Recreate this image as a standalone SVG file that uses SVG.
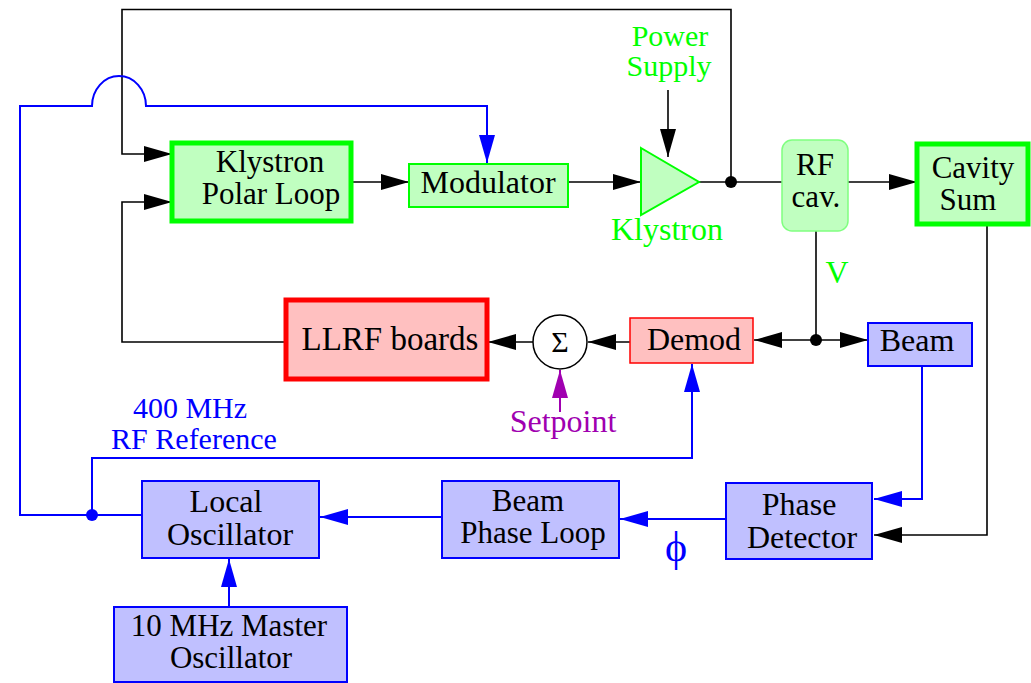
<svg xmlns="http://www.w3.org/2000/svg" width="1031" height="683" viewBox="0 0 1031 683" font-family="'Liberation Serif', 'Times New Roman', serif">
<style>
text{font-family:'Liberation Serif','Times New Roman',serif;font-size:32px;text-anchor:middle;fill:#000}
.two{font-size:31px}
.g{fill:#c0ffc0;stroke:#00ff00;stroke-width:2}
.gt{fill:#c0ffc0;stroke:#00ff00;stroke-width:5}
.r{fill:#ffc0c0;stroke:#ff0000;stroke-width:1.5}
.rt{fill:#ffc0c0;stroke:#ff0000;stroke-width:5}
.b{fill:#c0c0ff;stroke:#0000ff;stroke-width:2}
.k{fill:none;stroke:#000;stroke-width:1.6}
.bl{fill:none;stroke:#0000ff;stroke-width:2}
.pu{fill:none;stroke:#a000b0;stroke-width:2}
.green{fill:#00ff00}
.blue{fill:#0000ff}
.purple{fill:#a000b0}
</style>
<defs>
<marker id="ak" markerUnits="userSpaceOnUse" markerWidth="28" markerHeight="16" viewBox="0 0 28 16" refX="28" refY="8" orient="auto"><path d="M0,0 L28,8 L0,16 z" fill="#000"/></marker>
<marker id="ab" markerUnits="userSpaceOnUse" markerWidth="28" markerHeight="16" viewBox="0 0 28 16" refX="28" refY="8" orient="auto"><path d="M0,0 L28,8 L0,16 z" fill="#0000ff"/></marker>
<marker id="ap" markerUnits="userSpaceOnUse" markerWidth="28" markerHeight="16" viewBox="0 0 28 16" refX="28" refY="8" orient="auto"><path d="M0,0 L28,8 L0,16 z" fill="#a000b0"/></marker>
</defs>
<rect width="1031" height="683" fill="#fff"/>
<g id="connectors">
<path class="k" d="M731,182 L731,9.5 L122,9.5 L122,154 L172,154" marker-end="url(#ak)"/>
<path class="k" d="M286,342 L122,342 L122,202 L172,202" marker-end="url(#ak)"/>
<path class="k" d="M351,182 L409,182" marker-end="url(#ak)"/>
<path class="k" d="M568,182 L641,182" marker-end="url(#ak)"/>
<path class="k" d="M668,90 L668,157" marker-end="url(#ak)"/>
<path class="k" d="M699,182 L782,182"/>
<circle cx="731" cy="182" r="6" fill="#000"/>
<path class="k" d="M848,182 L917,182" marker-end="url(#ak)"/>
<path class="k" d="M816,231 L816,340"/>
<circle cx="816" cy="340" r="6" fill="#000"/>
<path class="k" d="M816,340 L754,340" marker-end="url(#ak)"/>
<path class="k" d="M816,340 L868,340" marker-end="url(#ak)"/>
<path class="k" d="M630,342 L588,342" marker-end="url(#ak)"/>
<path class="k" d="M533,342 L488,342" marker-end="url(#ak)"/>
<path class="pu" d="M560,412 L560,370" marker-end="url(#ap)"/>
<path class="k" d="M987,224 L987,535 L874,535" marker-end="url(#ak)"/>
<path class="bl" d="M922,366 L922,499 L874,499" marker-end="url(#ab)"/>
<path class="bl" d="M726,519 L620,519" marker-end="url(#ab)"/>
<path class="bl" d="M442,517 L320,517" marker-end="url(#ab)"/>
<path class="bl" d="M229,607 L229,559" marker-end="url(#ab)"/>
<path class="bl" d="M142,515 L20,515 L20,106 L92,106 A27,30 0 0 1 146,106 L487,106 L487,163" marker-end="url(#ab)"/>
<circle cx="92" cy="515" r="6" fill="#0000ff"/>
<path class="bl" d="M92,515 L92,458 L692,458 L692,364" marker-end="url(#ab)"/>
</g>
<g id="klystron-polar-loop">
<rect class="gt" x="172" y="143" width="179" height="78"/>
<text class="two"><tspan x="270" y="172">Klystron</tspan><tspan x="271" y="204">Polar Loop</tspan></text>
</g>
<g id="modulator">
<rect class="g" x="409" y="164" width="159" height="43"/>
<text x="488" y="193">Modulator</text>
</g>
<g id="klystron">
<polygon class="g" stroke-width="1.5" points="641,148 699,182 641,215"/>
<text class="green" x="667" y="240">Klystron</text>
</g>
<g id="power-supply">
<text class="green" style="font-size:30px"><tspan x="670" y="46">Power</tspan><tspan x="669" y="76">Supply</tspan></text>
</g>
<g id="rf-cav">
<rect x="782" y="140" width="66" height="91" rx="10" fill="#c0ffc0" stroke="#80ff80" stroke-width="1.5"/>
<text class="two"><tspan x="815" y="175">RF</tspan><tspan x="816" y="207">cav.</tspan></text>
</g>
<g id="cavity-sum">
<rect class="gt" x="917" y="144" width="111" height="80"/>
<text class="two"><tspan x="973" y="178">Cavity</tspan><tspan x="968" y="210">Sum</tspan></text>
</g>
<g id="v-label">
<text class="green" x="837" y="283">V</text>
</g>
<g id="llrf-boards">
<rect class="rt" x="286" y="300" width="201" height="79"/>
<text x="390" y="350" style="font-size:33px">LLRF boards</text>
</g>
<g id="sum">
<circle cx="560" cy="342" r="27" fill="#fff" stroke="#000" stroke-width="1.5"/>
<text x="560" y="352" style="font-size:30px">Σ</text>
</g>
<g id="setpoint">
<text class="purple" x="563" y="432">Setpoint</text>
</g>
<g id="demod">
<rect class="r" x="630" y="318" width="123" height="45"/>
<text x="694" y="350">Demod</text>
</g>
<g id="beam">
<rect class="b" x="868" y="323" width="104" height="43"/>
<text x="917" y="351">Beam</text>
</g>
<g id="rf-reference">
<text class="blue" style="font-size:30px"><tspan x="190" y="418">400 MHz</tspan><tspan x="194" y="449">RF Reference</tspan></text>
</g>
<g id="phase-detector">
<rect class="b" x="726" y="483" width="146" height="76"/>
<text><tspan x="799" y="515">Phase</tspan><tspan x="802" y="548">Detector</tspan></text>
</g>
<g id="phi">
<text class="blue" x="676" y="561" style="font-size:42px">ϕ</text>
</g>
<g id="beam-phase-loop">
<rect class="b" x="442" y="481" width="177" height="77"/>
<text class="two"><tspan x="528" y="511">Beam</tspan><tspan x="533" y="543">Phase Loop</tspan></text>
</g>
<g id="local-oscillator">
<rect class="b" x="142" y="481" width="177" height="77"/>
<text><tspan x="226" y="512">Local</tspan><tspan x="230" y="545">Oscillator</tspan></text>
</g>
<g id="master-oscillator">
<rect class="b" x="114" y="607" width="233" height="75"/>
<text class="two"><tspan x="229" y="636">10 MHz Master</tspan><tspan x="231" y="668">Oscillator</tspan></text>
</g>
</svg>
